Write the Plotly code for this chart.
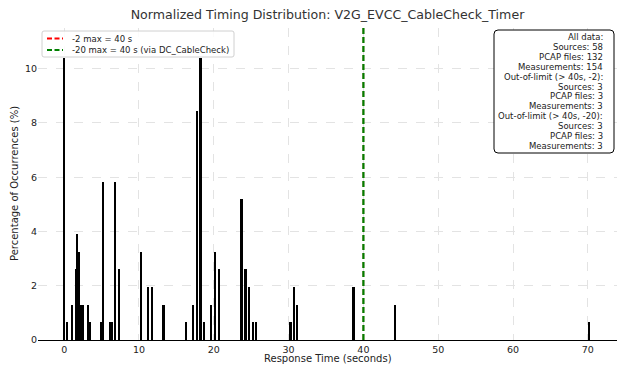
import plotly.graph_objects as go

# Response time bin positions (s) and percentage of occurrences (%)
response_times = [0.02, 0.37, 1.1, 1.6, 1.75, 1.95, 2.25, 2.5, 3.23, 3.45,
                  4.95, 5.19, 6.2, 6.4, 6.8, 7.33, 10.32, 11.25, 11.8, 13.3,
                  16.3, 17.27, 17.8, 18.25, 18.7, 19.7, 20.2, 20.75,
                  23.73, 24.27, 24.75, 25.3, 25.7, 30.28, 30.8, 31.2,
                  38.7, 44.3, 70.2]
percentages = [10.39, 0.65, 1.30, 2.60, 3.90, 3.25, 1.30, 1.30, 1.30, 0.65,
               0.65, 5.84, 0.65, 0.65, 5.84, 2.60, 3.25, 1.95, 1.95, 1.30,
               0.65, 1.30, 8.44, 10.39, 0.65, 1.30, 3.25, 2.60,
               5.19, 2.60, 1.95, 0.65, 0.65, 0.65, 1.95, 1.30,
               1.95, 1.30, 0.65]

limit_red = 40
limit_green = 40
legend_labels = ["-2 max = 40 s", "-20 max = 40 s (via DC_CableCheck)"]
legend_colors = ["red", "green"]
x_ticks = [0, 10, 20, 30, 40, 50, 60, 70]
y_ticks = [0, 2, 4, 6, 8, 10]
x_range = [-3.5, 73.9]
y_range = [0, 11.5]

stats_lines = ["All data:", "Sources: 58", "PCAP files: 132", "Measurements: 154",
               "Out-of-limit (> 40s, -2):", "Sources: 3", "PCAP files: 3", "Measurements: 3",
               "Out-of-limit (> 40s, -20):", "Sources: 3", "PCAP files: 3", "Measurements: 3"]

FONT = "DejaVu Sans"
W, H = 624, 372
ML, MR, MT, MB = 38, 7, 28, 32
PW, PH = W - ML - MR, H - MT - MB


def px(x):
    return (x - ML) / PW


def py(y):
    return (H - MB - y) / PH


def rounded_rect(x0, y0, x1, y1, r):
    # pixel coords -> paper path with rounded corners
    pts = []
    pts.append(f"M {px(x0 + r)},{py(y0)}")
    pts.append(f"L {px(x1 - r)},{py(y0)}")
    pts.append(f"Q {px(x1)},{py(y0)} {px(x1)},{py(y0 + r)}")
    pts.append(f"L {px(x1)},{py(y1 - r)}")
    pts.append(f"Q {px(x1)},{py(y1)} {px(x1 - r)},{py(y1)}")
    pts.append(f"L {px(x0 + r)},{py(y1)}")
    pts.append(f"Q {px(x0)},{py(y1)} {px(x0)},{py(y1 - r)}")
    pts.append(f"L {px(x0)},{py(y0 + r)}")
    pts.append(f"Q {px(x0)},{py(y0)} {px(x0 + r)},{py(y0)}")
    pts.append("Z")
    return " ".join(pts)


fig = go.Figure()
fig.add_trace(go.Bar(
    x=response_times, y=percentages, width=0.22,
    marker=dict(color="black", line=dict(width=0)),
    showlegend=False, hoverinfo="x+y"))

fig.add_trace(go.Scatter(
    x=[limit_red, limit_red], y=y_range, mode="lines",
    line=dict(color="red", width=1.4, dash="6px,3px"),
    name=legend_labels[0], showlegend=False))
fig.add_trace(go.Scatter(
    x=[limit_green, limit_green], y=y_range, mode="lines",
    line=dict(color="green", width=2.2, dash="6px,3px"),
    name=legend_labels[1], showlegend=False))

fig.update_layout(
    width=W, height=H,
    margin=dict(l=ML, r=MR, t=MT, b=MB, autoexpand=False),
    paper_bgcolor="white", plot_bgcolor="white",
    font=dict(family=FONT, size=9, color="#222"),
    title=dict(text="Normalized Timing Distribution: V2G_EVCC_CableCheck_Timer",
               x=(ML + PW / 2) / W, xref="container", xanchor="center",
               y=1 - 15 / H, yref="container", yanchor="middle",
               font=dict(size=12.6, color="#333")),
    bargap=0,
    showlegend=False,
    xaxis=dict(range=x_range, tickvals=x_ticks, showgrid=True, gridcolor="#e3e3e3",
               griddash="dash", gridwidth=0.8, zeroline=False, automargin=False,
               showline=True, linecolor="black", linewidth=1.2,
               ticks="", tickfont=dict(size=9.5)),
    yaxis=dict(range=y_range, tickvals=y_ticks, showgrid=True, gridcolor="#e3e3e3",
               griddash="dash", gridwidth=0.8, zeroline=False, showline=False,
               automargin=False, ticks="", tickfont=dict(size=9.5)),
)

# axis titles
fig.add_annotation(xref="paper", yref="paper", x=0.5, y=py(358), yanchor="middle",
                   text="Response Time (seconds)", showarrow=False,
                   font=dict(family=FONT, size=10, color="#222"))
fig.add_annotation(xref="paper", yref="paper", x=px(14), y=py(184), xanchor="center",
                   yanchor="middle", textangle=-90,
                   text="Percentage of Occurrences (%)", showarrow=False,
                   font=dict(family=FONT, size=10, color="#222"))

# custom legend
fig.add_shape(type="path", xref="paper", yref="paper",
              path=rounded_rect(42, 31, 234, 57, 2),
              fillcolor="rgba(255,255,255,0.85)", line=dict(color="#d0d0d0", width=1))
for i, (lab, col) in enumerate(zip(legend_labels, legend_colors)):
    yy = 38.5 + i * 11.5
    fig.add_shape(type="line", xref="paper", yref="paper",
                  x0=px(47), x1=px(63), y0=py(yy), y1=py(yy),
                  line=dict(color=col, width=2.2, dash="5px,2.5px"))
    fig.add_annotation(xref="paper", yref="paper", x=px(70), y=py(yy),
                       xanchor="left", yanchor="middle", text=lab, showarrow=False,
                       font=dict(family=FONT, size=8.5, color="#222"))

# stats box
fig.add_shape(type="path", xref="paper", yref="paper",
              path=rounded_rect(494, 30, 614, 153, 4),
              fillcolor="white", line=dict(color="black", width=1))
for i, line in enumerate(stats_lines):
    yy = 37 + i * 9.9
    fig.add_annotation(xref="paper", yref="paper", x=px(604.5), y=py(yy),
                       xanchor="right", yanchor="middle", text=line, showarrow=False,
                       font=dict(family=FONT, size=8.5, color="#222"))

fig.write_html("out.html",
               config={"displayModeBar": False},
               post_script="document.body.style.margin='0';document.body.style.padding='0';")
